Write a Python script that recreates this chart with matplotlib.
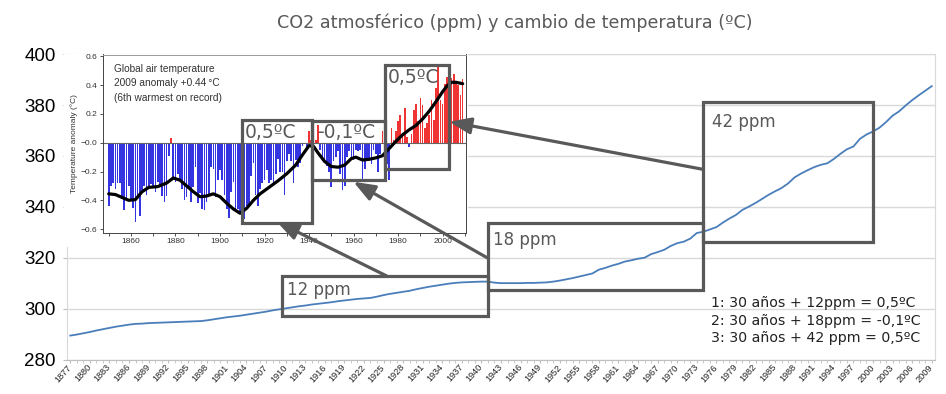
import matplotlib
matplotlib.use("Agg")
import matplotlib.pyplot as plt
from matplotlib.patches import Rectangle

W, H = 946, 394
GREY = "#595959"
LINE = "#4a7ebb"
FRAME = "#d9d9d9"
BLUE = "#3434e0"
RED = "#f03434"

# CO2 (ppm), one value per year 1877-2009
co2_years = list(range(1877, 2010))
co2_ppm = [
    289.4, 289.8, 290.3, 290.8, 291.4, 291.9, 292.4, 292.9, 293.3, 293.7,
    294.0, 294.1, 294.3, 294.4, 294.5, 294.6, 294.7, 294.8, 294.9, 295.0,
    295.1, 295.4, 295.8, 296.2, 296.6, 296.9, 297.2, 297.6, 298.0, 298.4,
    298.8, 299.3, 299.7, 300.1, 300.5, 300.9, 301.2, 301.6, 301.9, 302.2,
    302.5, 302.9, 303.2, 303.5, 303.8, 304.0, 304.2, 304.7, 305.3, 305.8,
    306.2, 306.6, 307.0, 307.6, 308.1, 308.6, 309.0, 309.4, 309.8, 310.1,
    310.3, 310.4, 310.5, 310.6, 310.6, 310.2, 310.0, 310.0, 310.0, 310.0,
    310.1, 310.1, 310.2, 310.3, 310.6, 311.0, 311.5, 312.0, 312.6, 313.2,
    313.8, 315.3, 316.0, 316.9, 317.6, 318.5, 319.0, 319.6, 320.0, 321.4,
    322.2, 323.1, 324.6, 325.7, 326.3, 327.5, 329.7, 330.2, 331.1, 332.0,
    333.8, 335.4, 336.8, 338.8, 340.1, 341.5, 343.1, 344.7, 346.1, 347.4,
    349.2, 351.6, 353.1, 354.4, 355.6, 356.5, 357.1, 358.8, 360.8, 362.6,
    363.7, 366.7, 368.4, 369.6, 371.1, 373.3, 375.8, 377.5, 379.8, 381.9,
    383.8, 385.6, 387.4,
]
xtick_years = list(range(1877, 2010, 3))
ytick_ppm = [280, 300, 320, 340, 360, 380, 400]

# inset: global air temperature anomaly (degC), 1850-2009
temp_years = list(range(1850, 2010))
temp_anom = [
    -0.44, -0.30, -0.28, -0.32, -0.28, -0.28, -0.39, -0.47, -0.40, -0.30,
    -0.40, -0.45, -0.55, -0.36, -0.51, -0.33, -0.30, -0.36, -0.30, -0.29,
    -0.30, -0.34, -0.27, -0.31, -0.37, -0.41, -0.37, -0.09, 0.03, -0.24,
    -0.27, -0.22, -0.25, -0.32, -0.40, -0.38, -0.32, -0.41, -0.31, -0.17,
    -0.42, -0.35, -0.46, -0.47, -0.41, -0.36, -0.17, -0.18, -0.38, -0.26,
    -0.19, -0.26, -0.36, -0.46, -0.52, -0.34, -0.27, -0.47, -0.46, -0.48,
    -0.45, -0.53, -0.44, -0.43, -0.23, -0.14, -0.36, -0.44, -0.32, -0.28,
    -0.26, -0.19, -0.28, -0.26, -0.28, -0.22, -0.11, -0.20, -0.20, -0.36,
    -0.13, -0.08, -0.13, -0.28, -0.12, -0.17, -0.14, -0.02, -0.01, -0.04,
    0.08, 0.02, -0.02, 0.02, 0.12, -0.05, -0.12, -0.14, -0.16, -0.20,
    -0.31, -0.13, -0.10, -0.06, -0.22, -0.33, -0.30, -0.10, -0.06, -0.10,
    -0.12, -0.05, -0.06, -0.05, -0.26, -0.18, -0.12, -0.12, -0.15, -0.05,
    -0.08, -0.20, -0.08, 0.08, -0.20, -0.15, -0.26, 0.10, 0.02, 0.08,
    0.15, 0.19, 0.05, 0.24, 0.04, -0.03, 0.06, 0.23, 0.27, 0.15,
    0.31, 0.26, 0.10, 0.14, 0.19, 0.30, 0.16, 0.38, 0.54, 0.30,
    0.27, 0.41, 0.46, 0.47, 0.45, 0.48, 0.43, 0.40, 0.33, 0.44,
]
smooth_years = [1850, 1853, 1856, 1859, 1862, 1865, 1868, 1872, 1876, 1879,
                1882, 1885, 1888, 1891, 1894, 1897, 1900, 1903, 1906, 1909,
                1912, 1915, 1918, 1922, 1926, 1930, 1934, 1937, 1940, 1942,
                1944, 1947, 1950, 1953, 1956, 1959, 1961, 1964, 1967, 1970,
                1973, 1976, 1979, 1982, 1985, 1988, 1991, 1994, 1997, 2000,
                2002, 2004, 2006, 2009]
smooth_anom = [-0.355, -0.36, -0.38, -0.40, -0.395, -0.34, -0.31, -0.305, -0.28, -0.245,
               -0.26, -0.30, -0.34, -0.375, -0.37, -0.355, -0.375, -0.42, -0.46, -0.49,
               -0.455, -0.40, -0.355, -0.31, -0.265, -0.215, -0.155, -0.085, -0.02, -0.025,
               -0.07, -0.13, -0.165, -0.17, -0.155, -0.11, -0.10, -0.12, -0.115, -0.105,
               -0.09, -0.04, 0.01, 0.055, 0.09, 0.12, 0.165, 0.22, 0.285, 0.355,
               0.395, 0.42, 0.42, 0.41]
inset_yticks = [-0.6, -0.4, -0.2, 0.0, 0.2, 0.4, 0.6]
inset_ylabels = ["\u22120.6", "\u22120.4", "\u22120.2", "\u22120.0", "0.2", "0.4", "0.6"]
inset_xticks = list(range(1860, 2001, 20))

# annotation boxes: (x0, x1, y0, y1, label, label_x, label_y)
ppm_boxes = [
    (1909.4, 1941.0, 297.1, 312.8, "12 ppm", 1910.2, 305.3),
    (1941.0, 1974.0, 307.3, 333.6, "18 ppm", 1941.8, 325.0),
    (1974.0, 2000.0, 326.3, 381.3, "42 ppm", 1975.4, 371.4),
]
temp_boxes = [
    (1909.7, 1941.4, -0.556, 0.158, "0,5ºC", 1911.2, 0.031),
    (1941.4, 1974.3, -0.259, 0.151, "-0,1ºC", 1943.5, 0.031),
    (1974.3, 2003.0, -0.185, 0.540, "0,5ºC", 1975.5, 0.417),
]
# arrows: tail on main chart (year, ppm) -> head on inset (year, anomaly)
arrows = [
    ((1925.5, 312.8), (1925.5, -0.549)),
    ((1941.0, 319.8), (1959.9, -0.271)),
    ((1974.0, 354.7), (2003.0, 0.146)),
]
notes = ["1: 30 años + 12ppm = 0,5ºC",
         "2: 30 años + 18ppm = -0,1ºC",
         "3: 30 años + 42 ppm = 0,5ºC"]


def fig_rect(left, top, right, bottom):
    return [left / W, 1 - bottom / H, (right - left) / W, (bottom - top) / H]


plt.rcParams["font.family"] = "DejaVu Sans"
fig = plt.figure(figsize=(W / 100, H / 100), dpi=100)

# main CO2 chart
ax = fig.add_axes(fig_rect(67, 54.1, 935, 359.5))
ax.plot(co2_years, co2_ppm, color=LINE, lw=1.3, zorder=3)
ax.set_xlim(1876.5, 2009.5)
ax.set_ylim(280, 400)
ax.set_yticks(ytick_ppm)
ax.set_yticklabels([str(v) for v in ytick_ppm], family="Liberation Sans", fontsize=13.5)
ax.set_xticks(xtick_years)
ax.set_xticklabels([str(y) for y in xtick_years], family="Liberation Sans", fontsize=6.6,
                   rotation=48, ha="right", va="center", rotation_mode="anchor")
ax.set_xticks(co2_years, minor=True)
ax.tick_params(axis="y", length=3, color="#bfbfbf", pad=5)
ax.tick_params(axis="x", which="both", length=2, color="#bfbfbf", pad=2.5, labelcolor="#222222")
ax.grid(axis="y", color=FRAME, lw=1)
ax.set_axisbelow(True)
for s in ax.spines.values():
    s.set_color(FRAME)
ax.spines["bottom"].set_color("#bfbfbf")

for x0, x1, y0, y1, lab, lx, ly in ppm_boxes:
    ax.add_patch(Rectangle((x0, y0), x1 - x0, y1 - y0, fill=False, ec=GREY, lw=2.3,
                           clip_on=False, zorder=5))
    ax.text(lx, ly, lab, fontsize=12, color=GREY, va="baseline", zorder=6)

# white backdrop of the pasted temperature figure
fig.add_artist(Rectangle((64 / W, 1 - 247 / H), 404 / W, 193 / H, transform=fig.transFigure,
                         fc="white", ec="none", zorder=1))

# inset temperature chart
ax_in = fig.add_axes(fig_rect(102.7, 54.5, 466, 232.7), zorder=2)
ax_in.bar(temp_years, temp_anom, width=0.75,
          color=[RED if v > 0 else BLUE for v in temp_anom], zorder=2)
ax_in.axhline(0, color="#666666", lw=0.8, zorder=2.5)
ax_in.plot(smooth_years, smooth_anom, color="black", lw=2.3, zorder=3,
           solid_capstyle="round", solid_joinstyle="round")
ax_in.set_xlim(1847.3, 2010.5)
ax_in.set_ylim(-0.625, 0.613)
ax_in.set_yticks(inset_yticks)
ax_in.set_yticklabels(inset_ylabels)
ax_in.set_xticks(inset_xticks)
ax_in.set_xticks(range(1850, 2011, 10), minor=True)
ax_in.tick_params(which="both", direction="out", length=2.5, width=0.6, pad=1.5,
                  labelsize=6, labelcolor="#333333", color="#333333")
for lab in ax_in.get_xticklabels() + ax_in.get_yticklabels():
    lab.set_family("Liberation Sans")
ax_in.set_ylabel("Temperature anomaly (°C)", fontsize=6, color="#333333",
                 family="Liberation Sans", labelpad=2)
for s in ax_in.spines.values():
    s.set_color("#444444")
    s.set_linewidth(0.7)
ax_in.spines["top"].set_color("#999999")
for i, line in enumerate(["Global air temperature", "2009 anomaly +0.44\u2009°C",
                          "(6th warmest on record)"]):
    ax_in.text(0.031, 0.921 - i * 0.083, line, transform=ax_in.transAxes, fontsize=7.3,
               color="#333333", family="Liberation Sans", va="center")

for x0, x1, y0, y1, lab, lx, ly in temp_boxes:
    ax_in.add_patch(Rectangle((x0, y0), x1 - x0, y1 - y0, fill=False, ec=GREY, lw=2.3,
                              clip_on=False, zorder=5))
    ax_in.text(lx, ly, lab, fontsize=13.5, color=GREY, va="baseline", zorder=6)

for tail, head in arrows:
    ax_in.annotate("", xy=head, xycoords="data", xytext=tail, textcoords=ax.transData,
                   arrowprops=dict(arrowstyle="-|>,head_length=0.65,head_width=0.25",
                                   color=GREY, lw=2.3, shrinkA=0, shrinkB=0,
                                   mutation_scale=20),
                   annotation_clip=False, zorder=7)

fig.text(515 / W, 1 - 23 / H, "CO2 atmosférico (ppm) y cambio de temperatura (ºC)",
         ha="center", va="center", fontsize=12.6, color=GREY)
for i, note in enumerate(notes):
    fig.text(711 / W, 1 - (307 + i * 17.5) / H, note, fontsize=10.2, color="#222222",
             va="baseline")

fig.savefig("out.png", dpi=100)
